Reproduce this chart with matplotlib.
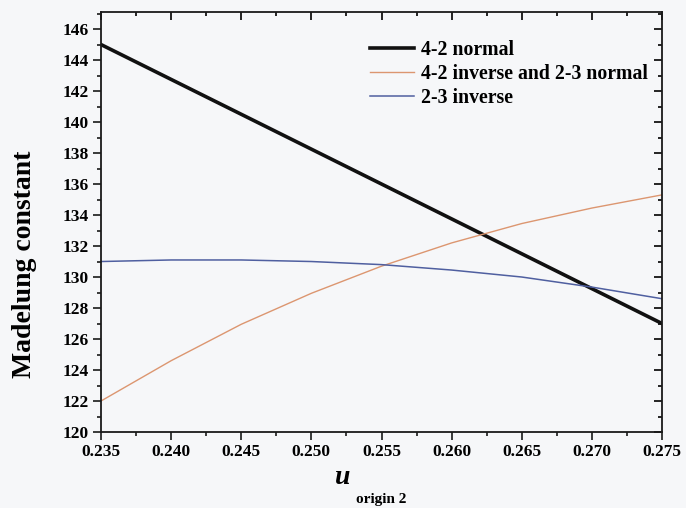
"""
Madelung constant vs. u parameter for the three cation arrangements
"""
import matplotlib.pyplot as plt
from matplotlib.ticker import MultipleLocator

u_origin2 = [0.235, 0.240, 0.245, 0.250, 0.255, 0.260, 0.265, 0.270, 0.275]
normal_42 = [145.0, 142.75, 140.5, 138.25, 136.0, 133.75, 131.5, 129.25, 127.0]
inv42_norm23 = [122.0, 124.6, 126.95, 128.95, 130.7, 132.2, 133.45, 134.45, 135.3]
inverse_23 = [131.0, 131.1, 131.1, 131.0, 130.8, 130.45, 130.0, 129.35, 128.6]

LABELS = ["4-2 normal", "4-2 inverse and 2-3 normal", "2-3 inverse"]
COLORS = ["#111111", "#dc9670", "#4f5fa0"]
BG = "#f6f7f9"

plt.rcParams["font.family"] = ["Liberation Serif", "DejaVu Serif"]
plt.rcParams["font.weight"] = "bold"

fig = plt.figure(figsize=(6.86, 5.08), dpi=100, facecolor=BG)
ax = fig.add_axes([101 / 686, 1 - 432 / 508, 561 / 686, 420 / 508])
ax.set_facecolor(BG)

ax.plot(u_origin2, normal_42, color=COLORS[0], lw=2.6, label=LABELS[0])
ax.plot(u_origin2, inv42_norm23, color=COLORS[1], lw=1.0, label=LABELS[1])
ax.plot(u_origin2, inverse_23, color=COLORS[2], lw=1.1, label=LABELS[2])

ax.set_xlim(0.235, 0.275)
ax.set_ylim(120, 147.1)
ax.xaxis.set_major_locator(MultipleLocator(0.005))
ax.xaxis.set_minor_locator(MultipleLocator(0.0025))
ax.yaxis.set_major_locator(MultipleLocator(2))
ax.yaxis.set_minor_locator(MultipleLocator(1))
ax.xaxis.set_major_formatter(plt.FormatStrFormatter("%.3f"))

for side in ax.spines.values():
	side.set_linewidth(1.3)
	side.set_color("#1a1a1a")

# left/bottom ticks point out, mirrored top/right ticks point in
ax.tick_params(which="both", width=1.2, color="#1a1a1a", labelsize=12.5)
ax.tick_params(which="major", length=6)
ax.tick_params(which="minor", length=3)
ax.tick_params(which="both", direction="out", top=False, right=False)
ax.tick_params(axis="y", pad=3)
ax.tick_params(axis="x", pad=3)

top = ax.secondary_xaxis("top")
top.xaxis.set_major_locator(MultipleLocator(0.005))
top.xaxis.set_minor_locator(MultipleLocator(0.0025))
top.tick_params(which="both", direction="in", labeltop=False, width=1.2)
top.tick_params(which="major", length=6)
top.tick_params(which="minor", length=3)
right = ax.secondary_yaxis("right")
right.yaxis.set_major_locator(MultipleLocator(2))
right.yaxis.set_minor_locator(MultipleLocator(1))
right.tick_params(which="both", direction="in", labelright=False, width=1.2)
right.tick_params(which="major", length=6)
right.tick_params(which="minor", length=3)
for sec in (top, right):
	for side in sec.spines.values():
		side.set_visible(False)

ax.set_ylabel("Madelung constant", fontsize=20, fontweight="bold")
ax.yaxis.set_label_coords(-0.114, 0.4)

# axis label u with subscript
fig.text(343 / 686, 1 - 484 / 508, "u", fontsize=20, fontweight="bold",
		 fontstyle="italic", ha="center", va="baseline")
fig.text(381 / 686, 1 - 503 / 508, "origin 2", fontsize=11, fontweight="bold",
		 ha="center", va="baseline")

ax.legend(loc="upper left", bbox_to_anchor=(0.466, 0.953), frameon=False,
		  fontsize=14.2, handlelength=2.2, handletextpad=0.35, labelspacing=0.22,
		  borderaxespad=0)

fig.savefig("out.png", dpi=100, facecolor=BG)
